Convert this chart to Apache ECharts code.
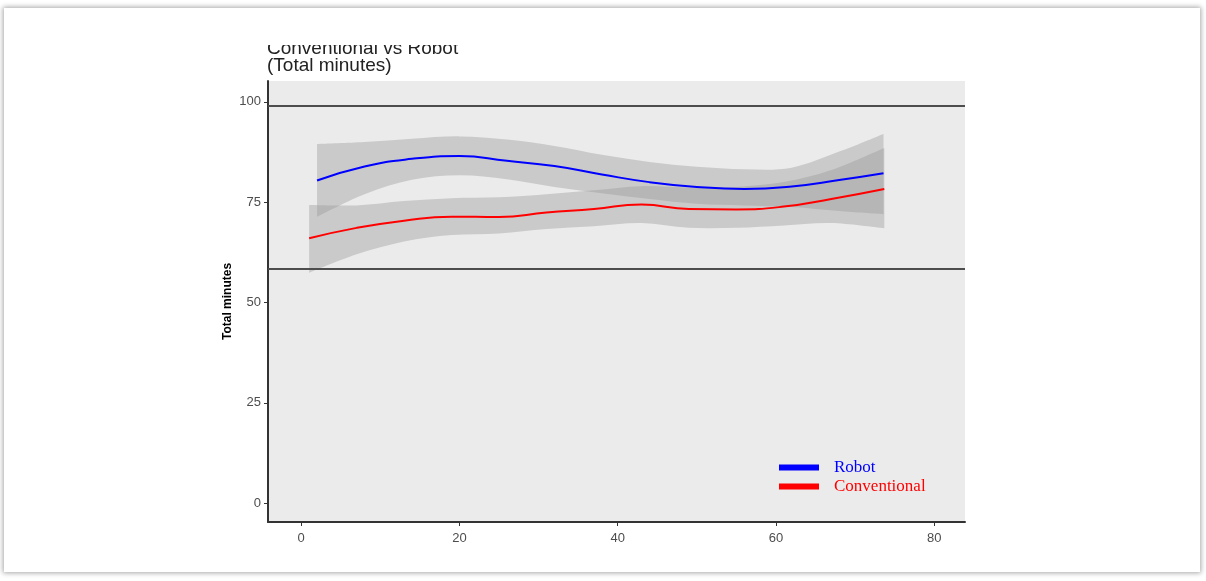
<!DOCTYPE html>
<html>
<head>
<meta charset="utf-8">
<script src="https://cdn.jsdelivr.net/npm/echarts@6/dist/echarts.min.js"></script>
<style>
html, body { margin: 0; padding: 0; background: #fff; }
#chart { position: absolute; left: 0; top: 0; width: 1206px; height: 581px; }
#frame { position: absolute; left: 4px; top: 8px; width: 1196px; height: 564px;
         box-shadow: 0 0 5px 1px rgba(0,0,0,0.35); pointer-events: none; }
</style>
</head>
<body>
<div id="chart"></div>
<div id="frame"></div>
<script>
// smoothed fits (loess)
var robotX    = [2, 8, 14, 20, 26, 32, 38, 44, 50, 56, 62, 68, 73.6];
var robotFit  = [80.4, 83.9, 85.8, 86.5, 85.3, 84.0, 81.9, 80.0, 78.8, 78.3, 78.9, 80.5, 82.2];
var robotLow  = [71.4, 77.0, 80.6, 81.7, 80.7, 78.8, 77.2, 75.8, 74.6, 74.2, 73.8, 72.8, 72.0];
var robotHigh = [89.5, 90.0, 90.8, 91.4, 90.6, 89.0, 86.8, 85.0, 83.8, 83.2, 83.6, 87.6, 92.0];

var convX    = [1, 7, 13, 19, 25, 31, 37, 43, 49, 55, 61, 67, 73.7];
var convFit  = [66.0, 68.6, 70.4, 71.4, 71.3, 72.4, 73.3, 74.4, 73.3, 73.2, 73.9, 75.8, 78.3];
var convLow  = [57.4, 62.0, 65.2, 66.8, 67.2, 68.3, 69.0, 69.8, 68.6, 68.6, 69.2, 69.8, 68.5];
var convHigh = [74.3, 74.2, 75.3, 76.0, 76.2, 77.0, 78.0, 79.0, 78.6, 78.8, 80.0, 83.0, 88.5];

var refLines = [99, 58.3];
var xTicks = [0, 20, 40, 60, 80];
var yTicks = [0, 25, 50, 75, 100];

function pairs(xs, ys) {
  return xs.map(function (x, i) { return [x, ys[i]]; });
}
function ribbonRows(xs, lo, hi) {
  return xs.map(function (x, i) { return [x, lo[i], hi[i]]; });
}

// catmull-rom through pixel points -> svg path commands
function splinePath(pts, start) {
  var d = (start ? 'M' : 'L') + pts[0][0] + ' ' + pts[0][1];
  for (var i = 0; i < pts.length - 1; i++) {
    var p0 = pts[i - 1] || pts[i], p1 = pts[i], p2 = pts[i + 1], p3 = pts[i + 2] || p2;
    var c1 = [p1[0] + (p2[0] - p0[0]) / 6, p1[1] + (p2[1] - p0[1]) / 6];
    var c2 = [p2[0] - (p3[0] - p1[0]) / 6, p2[1] - (p3[1] - p1[1]) / 6];
    d += 'C' + c1[0] + ' ' + c1[1] + ' ' + c2[0] + ' ' + c2[1] + ' ' + p2[0] + ' ' + p2[1];
  }
  return d;
}

var bandFill = 'rgba(153,153,153,0.4)';

function ribbonSeries(name, rows) {
  return {
    name: name, type: 'custom', silent: true, clip: true,
    encode: { x: 0, y: [1, 2] },
    data: rows,
    renderItem: function (params, api) {
      if (params.dataIndex !== 0) return;
      var up = rows.map(function (r) { return api.coord([r[0], r[2]]); });
      var dn = rows.map(function (r) { return api.coord([r[0], r[1]]); }).reverse();
      return {
        type: 'path',
        shape: { pathData: splinePath(up, true) + splinePath(dn, false) + 'Z' },
        style: { fill: bandFill, stroke: null }
      };
    }
  };
}

var chart = echarts.init(document.getElementById('chart'));

chart.setOption({
  animation: false,
  title: {
    text: 'Conventional vs Robot\n(Total minutes)',
    left: 267,
    top: 40,
    padding: 0,
    textStyle: { fontFamily: 'Liberation Sans, Arial', fontSize: 19, fontWeight: 'normal', color: '#222', lineHeight: 17 }
  },
  // the top of the first title line is cut off in the original
  graphic: [{
    type: 'rect', z: 100,
    shape: { x: 10, y: 9, width: 1188, height: 36 },
    style: { fill: '#fff' }
  }],
  legend: {
    orient: 'vertical',
    left: 779,
    top: 459,
    padding: 0,
    icon: 'rect',
    itemWidth: 40,
    itemHeight: 6,
    itemGap: 2,
    textStyle: { fontFamily: 'Liberation Serif, Times New Roman', fontSize: 17, padding: [0, 0, 0, 10] },
    data: [
      { name: 'Robot', textStyle: { color: '#0000ff' } },
      { name: 'Conventional', textStyle: { color: '#ff0000' } }
    ]
  },
  grid: {
    left: 268, top: 81, right: 241, bottom: 59,
    show: true, backgroundColor: '#ebebeb', borderWidth: 0
  },
  xAxis: {
    type: 'value',
    min: -4.2, max: 83.9,
    splitLine: { show: false },
    axisLine: { show: true, onZero: false, lineStyle: { color: '#333', width: 2 } },
    axisTick: { show: true, length: 4, customValues: xTicks, lineStyle: { color: '#333' } },
    axisLabel: { customValues: xTicks, color: '#4d4d4d', fontSize: 13, fontFamily: 'Liberation Sans, Arial', margin: 10 }
  },
  yAxis: {
    type: 'value',
    min: -4.7, max: 105.2,
    name: 'Total minutes',
    nameLocation: 'middle',
    nameGap: 34,
    nameMoveOverlap: false,
    nameTextStyle: { fontFamily: 'Liberation Sans, Arial', fontSize: 12, fontWeight: 'bold', color: '#000' },
    splitLine: { show: false },
    axisLine: { show: true, onZero: false, lineStyle: { color: '#333', width: 2 } },
    axisTick: { show: true, length: 4, customValues: yTicks, lineStyle: { color: '#333' } },
    axisLabel: { customValues: yTicks, color: '#4d4d4d', fontSize: 13, fontFamily: 'Liberation Sans, Arial', margin: 7 }
  },
  series: [
    ribbonSeries('robotBand', ribbonRows(robotX, robotLow, robotHigh)),
    ribbonSeries('convBand', ribbonRows(convX, convLow, convHigh)),
    {
      name: 'Robot', type: 'line', smooth: true, symbol: 'none', color: '#0000ff',
      lineStyle: { color: '#0000ff', width: 2 },
      data: pairs(robotX, robotFit),
      markLine: {
        silent: true, symbol: 'none', label: { show: false },
        lineStyle: { color: '#4d4d4d', width: 2, type: 'solid' },
        data: refLines.map(function (v) { return { yAxis: v }; })
      }
    },
    {
      name: 'Conventional', type: 'line', smooth: true, symbol: 'none', color: '#ff0000',
      lineStyle: { color: '#ff0000', width: 2 },
      data: pairs(convX, convFit)
    }
  ]
});
</script>
</body>
</html>
